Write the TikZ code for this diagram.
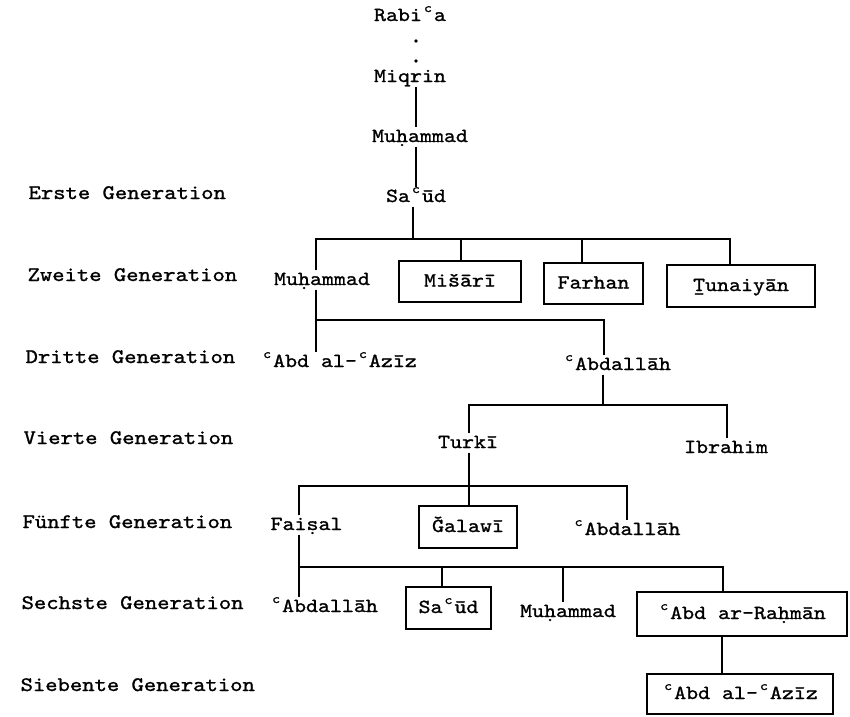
\documentclass[tikz,border=0pt]{standalone}
\usepackage{fontspec}
\newfontfamily\tw[FakeStretch=1.14,FakeBold=1.2]{lmmono10-regular.otf}
\usepackage{graphicx}
\newcommand\ayn{\makebox[0.6em][c]{\raisebox{0.45em}{\scalebox{0.66}{c}}}}
\begin{document}
\begin{tikzpicture}[x=1pt,y=-1pt,line width=1.2pt,
  nm/.style={font=\tw\fontsize{20}{24}\selectfont,inner sep=0pt,text height=14pt,text depth=4pt},
  gen/.style={font=\tw\fontsize{20.6}{24}\selectfont,inner sep=0pt,anchor=west,text height=14pt,text depth=4pt},
  namebox/.style={nm,draw,minimum width=#1},
  dotn/.style={circle,fill=black,inner sep=1.3pt}]
\useasboundingbox (0,0) rectangle (850,716);
% generation labels
\node[gen] (g1) at (28,194) {Erste Generation};
\node[gen] (g2) at (27,276) {Zweite Generation};
\node[gen] (g3) at (25,358) {Dritte Generation};
\node[gen] (g4) at (23,439) {Vierte Generation};
\node[gen] (g5) at (22,523) {Fünfte Generation};
\node[gen] (g6) at (21,604) {Sechste Generation};
\node[gen] (g7) at (20,686) {Siebente Generation};
% ancestors
\node[nm] (rabia) at (410,16) {Rabi\ayn a};
\node[dotn] (dA) at (416,41) {};
\node[dotn] (dB) at (416,61) {};
\node[nm] (miqrin) at (410,77) {Miqrin};
\node[nm] (muh0) at (420,137) {Muḥammad};
\node[nm] (saud0) at (416,197) {Sa\ayn ūd};
% second generation
\node[nm] (muh1) at (322,280) {Muḥammad};
\node[namebox=122pt,minimum height=41pt] (misari) at (460,281.5) {Mišārī};
\node[namebox=99pt,minimum height=41pt] (farhan) at (593.5,283.5) {Farhan};
\node[namebox=148pt,minimum height=42pt] (tunaiyan) at (741,286) {Ṯunaiyān};
% third generation
\node[nm] (aziz3) at (339,362) {\ayn Abd al-\ayn Azīz};
\node[nm] (abd3) at (617,365) {\ayn Abdallāh};
% fourth generation
\node[nm] (turki) at (468,443) {Turkī};
\node[nm] (ibrahim) at (726,448) {Ibrahim};
% fifth generation
\node[nm] (faisal) at (306.5,525) {Faiṣal};
\node[namebox=98pt,minimum height=42pt] (galawi) at (468,527) {Ǧalawī};
\node[nm] (abd5) at (626.5,530) {\ayn Abdallāh};
% sixth generation
\node[nm] (abd6) at (324,607) {\ayn Abdallāh};
\node[namebox=85pt,minimum height=42pt] (saud6) at (448.5,608) {Sa\ayn ūd};
\node[nm] (muh6) at (568,612) {Muḥammad};
\node[namebox=210pt,minimum height=44pt] (rahman) at (742,614) {\ayn Abd ar-Raḥmān};
% seventh generation
\node[namebox=186pt,minimum height=40pt] (aziz7) at (740,694) {\ayn Abd al-\ayn Azīz};
% connectors
\draw (miqrin.south -| dB) -- (muh0.north -| dB);
\draw (muh0.south -| saud0.north) -- (saud0.north);
\coordinate (b1) at (413,239);
\coordinate (b1l) at (316,239);
\coordinate (b1r) at (730,239);
\coordinate (b1a) at (461,239);
\coordinate (b1b) at (582,239);
\draw (saud0.south -| b1) -- (b1);
\draw (b1l |- muh1.north) -- (b1l) -- (b1r) -- (b1r |- tunaiyan.north);
\draw (b1a) -- (b1a |- misari.north);
\draw (b1b) -- (b1b |- farhan.north);
\coordinate (b2l) at (316,320);
\coordinate (b2r) at (604,320);
\draw (muh1.south -| b2l) -- (aziz3.north -| b2l);
\draw (b2l) -- (b2r) -- (b2r |- abd3.north);
\coordinate (b3l) at (469,405);
\coordinate (b3m) at (603,405);
\coordinate (b3r) at (727,405);
\draw (abd3.south -| b3m) -- (b3m);
\draw (b3l |- turki.north) -- (b3l) -- (b3r) -- (b3r |- ibrahim.north);
\coordinate (b4l) at (299,486);
\coordinate (b4m) at (469,486);
\coordinate (b4r) at (627,486);
\draw (turki.south -| b4m) -- (b4m);
\draw (b4l |- faisal.north) -- (b4l) -- (b4r) -- (b4r |- abd5.north);
\draw (b4m) -- (b4m |- galawi.north);
\coordinate (b5l) at (299,567);
\coordinate (b5r) at (723,567);
\coordinate (b5a) at (442,567);
\coordinate (b5b) at (563,567);
\draw (faisal.south -| b5l) -- (abd6.north -| b5l);
\draw (b5l) -- (b5r) -- (b5r |- rahman.north);
\draw (b5a) -- (b5a |- saud6.north);
\draw (b5b) -- (b5b |- muh6.north);
\coordinate (r7) at (722,655);
\draw (r7 |- rahman.south) -- (r7 |- aziz7.north);
\end{tikzpicture}
\end{document}
